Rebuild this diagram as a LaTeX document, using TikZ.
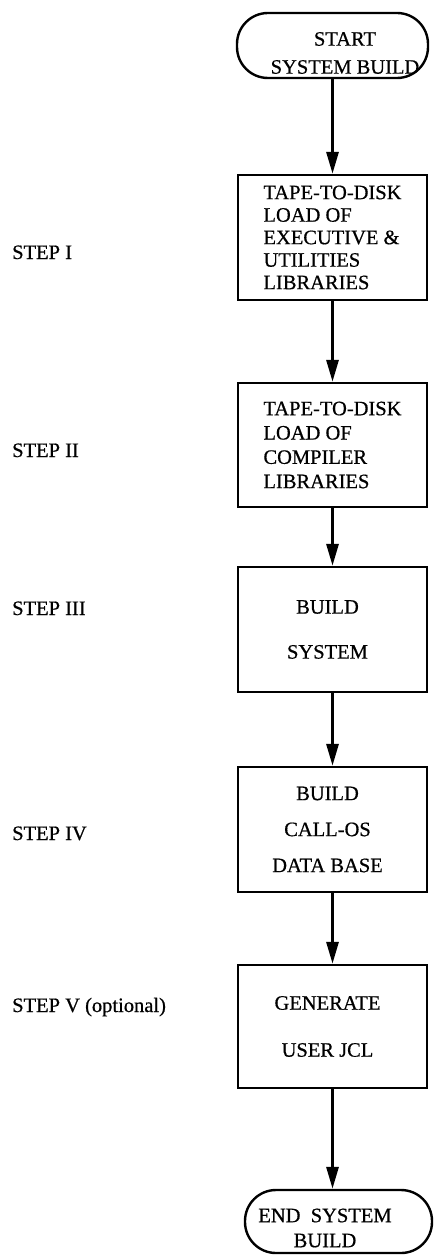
\documentclass[tikz,border=0pt]{standalone}
\usepackage{fontspec}
\setmainfont[FakeBold=0.6]{Liberation Serif}
\usetikzlibrary{arrows.meta}
\newcommand{\fsz}[1]{\fontsize{20.5}{#1}\selectfont}
\begin{document}
\begin{tikzpicture}[x=1pt,y=-1pt,
  procbox/.style={draw, line width=2.4pt, minimum width=189pt, minimum height=125pt, inner sep=0pt},
  termshape/.style={draw, line width=2.4pt, rounded corners=31pt, inner sep=0pt},
  termtext/.style={align=center, inner sep=0pt},
  steplabel/.style={anchor=base west, inner sep=0pt, font=\fsz{24}},
  flow/.style={line width=3pt, -{Triangle[length=22pt,width=12pt]}}]
\useasboundingbox (0,0) rectangle (436,1257);

% terminals
\node[termshape, minimum width=191pt, minimum height=65pt] (start) at (332.5,45.5) {};
\node[termtext, font=\fsz{28}] (starttxt) at (345,53) {START\\SYSTEM BUILD};

\node[termshape, minimum width=187pt, minimum height=63pt] (end) at (338.5,1221.5) {};
\node[termtext, font=\fsz{25}] (endtxt) at (325,1228) {END\ \ SYSTEM\\BUILD};

% process boxes
\node[procbox, align=left, font=\fsz{22.5}] (b1) at (332.5,237.5)
  {TAPE-TO-DISK\\LOAD OF\\EXECUTIVE \&\\UTILITIES\\LIBRARIES};
\node[procbox, align=left, font=\fsz{24.3}, minimum height=124pt] (b2) at (332.5,445)
  {TAPE-TO-DISK\\LOAD OF\\COMPILER\\LIBRARIES};
\node[procbox, align=center, font=\fsz{45}] (b3) at (332.5,629.5)
  {\hspace*{-10pt}BUILD\\\hspace*{-10pt}SYSTEM};
\node[procbox, align=center, font=\fsz{36}] (b4) at (332.5,829.5)
  {\hspace*{-10pt}BUILD\\\hspace*{-10pt}CALL-OS\\\hspace*{-10pt}DATA BASE};
\node[procbox, align=center, font=\fsz{47}, minimum height=123pt] (b5) at (332.5,1026.5)
  {\hspace*{-10pt}GENERATE\\\hspace*{-10pt}USER JCL};

% step labels
\node[steplabel] (s1) at (12,259) {STEP I};
\node[steplabel] (s2) at (12,457) {STEP II};
\node[steplabel] (s3) at (12,615) {STEP III};
\node[steplabel] (s4) at (12,840) {STEP IV};
\node[steplabel] (s5) at (12,1012) {STEP V (optional)};

% connectors
\draw[flow] (start.south) -- (b1.north);
\draw[flow] (b1.south) -- (b2.north);
\draw[flow] (b2.south) -- (b3.north);
\draw[flow] (b3.south) -- (b4.north);
\draw[flow] (b4.south) -- (b5.north);
\draw[flow] (b5.south) -- (b5.south |- end.north);
\end{tikzpicture}
\end{document}
